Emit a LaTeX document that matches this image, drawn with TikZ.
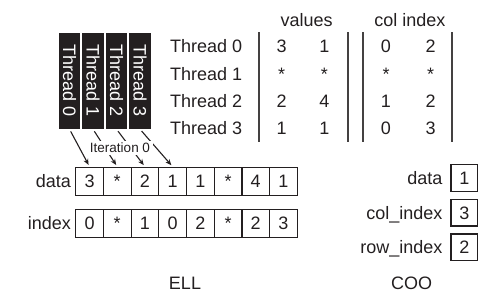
\documentclass[tikz,border=0pt]{standalone}
\usepackage{fontspec}
\setmainfont{Liberation Sans}
\usetikzlibrary{arrows.meta}
\definecolor{txt}{HTML}{231F20}
\begin{document}
\begin{tikzpicture}[x=1pt,y=-1pt,
  every node/.style={font=\fontsize{18}{20}\selectfont, text=txt},
  tbox/.style={fill=txt, minimum width=21.5pt, minimum height=96pt, inner sep=0pt},
  tlabel/.style={rotate=-90, text=white, inner sep=0pt},
  cell/.style={draw=txt, line width=1.2pt, minimum width=27.7pt, minimum height=28.4pt,
               inner sep=0pt, text height=12.9pt, text depth=0pt},
  lbl/.style={anchor=base, inner sep=0pt},
  lble/.style={anchor=base east, inner sep=0pt},
  arr/.style={-{Stealth[length=6pt,width=5pt]}, line width=1.1pt, draw=txt, shorten <=2.5pt, shorten >=2pt},
  bar/.style={line width=1.8pt, draw=txt!85},
  small/.style={font=\fontsize{13.5}{15}\selectfont}
]
\useasboundingbox (0,0) rectangle (485,298);

% thread boxes
\foreach \i in {0,...,3}{
  \node[tbox] (t\i) at ({69.5+23.5*\i},81) {};
  \node[tlabel] (tl\i) at (t\i.center) {Thread \i};
}

% ELL data and index rows
\foreach \v [count=\k from 0] in {3,*,2,1,1,*,4,1}{
  \node[cell] (d\k) at ({89.55+27.7*\k},181.5) {\v};
}
\foreach \v [count=\k from 0] in {0,*,1,0,2,*,2,3}{
  \node[cell] (i\k) at ({89.55+27.7*\k},223.3) {\v};
}
\node[lble] (ldata) at (71,187.9) {data};
\node[lble] (lindex) at (71,229.7) {index};

% arrows
\foreach \i in {0,...,3}{
  \draw[arr] (t\i.south) -- (d\i.north);
}
\node[small, fill=white, inner sep=2.5pt] (iter) at (120,148) {Iteration 0};

% table
\node[lbl] (hval) at (306.7,26) {values};
\node[lbl] (hcol) at (410,26) {col index};
\foreach \x in {259.3,347.7,363.3,452.3}{
  \draw[bar] (\x,32) -- (\x,142);
}
\foreach \r/\y in {0/52.9,1/80.4,2/107.7,3/134.9}{
  \node[anchor=base west, inner sep=0pt] (th\r) at (170,\y) {Thread \r};
}
\foreach \a/\b/\c/\d/\y/\r in {3/1/0/2/52.9/0, */*/*/*/80.4/1, 2/4/1/2/107.7/2, 1/1/0/3/134.9/3}{
  \node[lbl] (va\r) at (281.7,\y) {\a};
  \node[lbl] (vb\r) at (324.3,\y) {\b};
  \node[lbl] (ca\r) at (386,\y) {\c};
  \node[lbl] (cb\r) at (430.7,\y) {\d};
}

% COO
\node[cell, minimum width=26.7pt, minimum height=26.5pt] (cd) at (464.3,178) {1};
\node[cell, minimum width=26.7pt, minimum height=26.5pt] (cc) at (464.3,212.7) {3};
\node[cell, minimum width=26.7pt, minimum height=26.5pt] (cr) at (464.3,247.2) {2};
\node[lble] (lcd) at (442.7,184.4) {data};
\node[lble] (lcc) at (442.7,219.1) {col\_index};
\node[lble] (lcr) at (442.7,253.6) {row\_index};

% captions
\node[lbl] (ell) at (185,289.4) {ELL};
\node[lbl] (coo) at (411.7,289.4) {COO};
\end{tikzpicture}
\end{document}
